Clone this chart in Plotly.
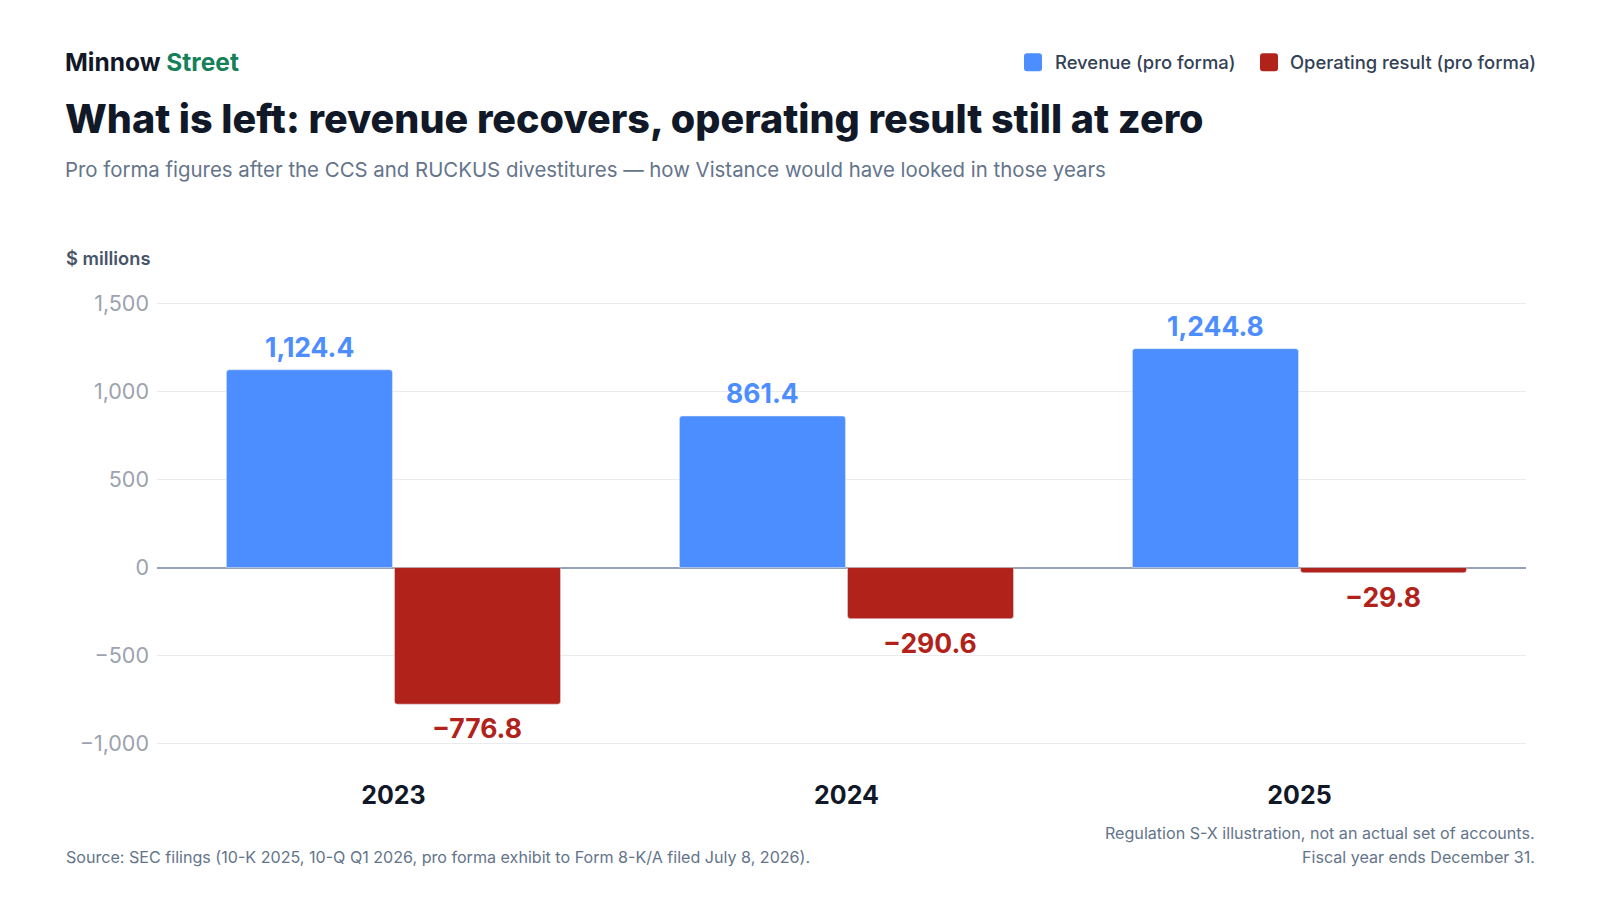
import plotly.graph_objects as go

# chart data
years = ["2023", "2024", "2025"]
revenue = [1124.4, 861.4, 1244.8]
operating_result = [-776.8, -290.6, -29.8]
y_ticks = [-1000, -500, 0, 500, 1000, 1500]

BLUE = "#4C8DFF"
RED = "#B0221A"
FONT = "Inter"

# page has an 8px body margin, so the figure is 1584x884 and
# positions below are given in page pixels then shifted
OFF = 8
W, H = 1600 - 2 * OFF, 900 - 2 * OFF
plot_left, plot_right, plot_top, plot_bottom = 157, 1526, 301.5, 761
L, R = plot_left - OFF, W - (plot_right - OFF)
T, B = plot_top - OFF, H - (plot_bottom - OFF)
pw, ph = W - L - R, H - T - B


def px(x):
    return (x - OFF - L) / pw


def py(y):
    return (H - B - (y - OFF)) / ph


def fmt(v):
    s = f"{abs(v):,.1f}"
    return ("\u2212" + s) if v < 0 else s


fig = go.Figure()
fig.add_trace(go.Bar(x=years, y=revenue, name="Revenue (pro forma)",
                     marker=dict(color=BLUE, cornerradius=3), hoverinfo="skip"))
fig.add_trace(go.Bar(x=years, y=operating_result, name="Operating result (pro forma)",
                     marker=dict(color=RED, cornerradius=3), hoverinfo="skip"))

# value labels (x is the category index)
for i, v in enumerate(revenue):
    fig.add_annotation(x=i, y=v, xshift=-84, yshift=23, text=fmt(v), showarrow=False,
                       yanchor="middle", font=dict(family=FONT, size=26.5, color=BLUE, weight=700))
for i, v in enumerate(operating_result):
    fig.add_annotation(x=i, y=v, xshift=84, yshift=-24, text=fmt(v), showarrow=False,
                       yanchor="middle", font=dict(family=FONT, size=26.5, color=RED, weight=700))

fig.update_layout(
    width=W, height=H,
    margin=dict(l=L, r=R, t=T, b=B),
    paper_bgcolor="white", plot_bgcolor="white",
    font=dict(family=FONT, color="#334155"),
    barmode="group", bargap=0.258, bargroupgap=0.012,
    showlegend=False,
    xaxis=dict(
        type="category", range=[-0.522, len(years) - 0.5],
        showgrid=False, showline=False, ticks="",
        tickfont=dict(family=FONT, size=25, color="#111827", weight=700),
        ticklabelstandoff=17,
    ),
    yaxis=dict(
        range=[-1100, 1510], tickvals=y_ticks,
        tickformat=",", showgrid=True, gridcolor="#E9EBEF", gridwidth=1,
        zeroline=True, zerolinecolor="#94A3B8", zerolinewidth=1.5,
        showline=False, ticks="",
        tickfont=dict(family=FONT, size=21.5, color="#9CA3AF"),
        ticklabelstandoff=7,
    ),
)

ann = [
    dict(x=px(63), y=py(61.5),
         text="Minnow <span style='color:#15805A'>Street</span>",
         font=dict(size=24.5, color="#111827", weight=700)),
    dict(x=px(63), y=py(118.5),
         text="What is left: revenue recovers, operating result still at zero",
         font=dict(size=39.5, color="#111827", weight=800)),
    dict(x=px(63), y=py(168.5),
         text="Pro forma figures after the CCS and RUCKUS divestitures \u2014 how Vistance would have looked in those years",
         font=dict(size=20.4, color="#64748B")),
    dict(x=px(64), y=py(257.5), text="$ millions",
         font=dict(size=18.3, color="#475569", weight=600)),
    dict(x=px(64), y=py(857.5),
         text="Source: SEC filings (10-K 2025, 10-Q Q1 2026, pro forma exhibit to Form 8-K/A filed July 8, 2026).",
         font=dict(size=16.1, color="#64748B")),
    dict(x=px(1053), y=py(61.5), text="Revenue (pro forma)",
         font=dict(size=18.4, color="#334155", weight=500)),
    dict(x=px(1288), y=py(61.5), text="Operating result (pro forma)",
         font=dict(size=18.4, color="#334155", weight=500)),
]
for a in ann:
    a.update(xref="paper", yref="paper", xanchor="left", yanchor="middle",
             showarrow=False)
    a["font"]["family"] = FONT
    fig.add_annotation(**a)

for text, yy in [("Regulation S-X illustration, not an actual set of accounts.", 833),
                 ("Fiscal year ends December 31.", 857.5)]:
    fig.add_annotation(x=px(1537), y=py(yy), xref="paper", yref="paper",
                       xanchor="right", yanchor="middle", showarrow=False, text=text,
                       font=dict(family=FONT, size=16.1, color="#64748B"))


# legend keys: rounded squares
def rounded_square(x0, y0, size, r):
    x1, y1 = x0 + size, y0 + size
    pts = [
        f"M {px(x0 + r)},{py(y0)}", f"L {px(x1 - r)},{py(y0)}",
        f"Q {px(x1)},{py(y0)} {px(x1)},{py(y0 + r)}", f"L {px(x1)},{py(y1 - r)}",
        f"Q {px(x1)},{py(y1)} {px(x1 - r)},{py(y1)}", f"L {px(x0 + r)},{py(y1)}",
        f"Q {px(x0)},{py(y1)} {px(x0)},{py(y1 - r)}", f"L {px(x0)},{py(y0 + r)}",
        f"Q {px(x0)},{py(y0)} {px(x0 + r)},{py(y0)}", "Z",
    ]
    return " ".join(pts)


for x0, col in [(1024, BLUE), (1260, RED)]:
    fig.add_shape(type="path", xref="paper", yref="paper",
                  path=rounded_square(x0, 52.5, 18, 3),
                  fillcolor=col, line=dict(width=0))

fig.write_html("out.html")
